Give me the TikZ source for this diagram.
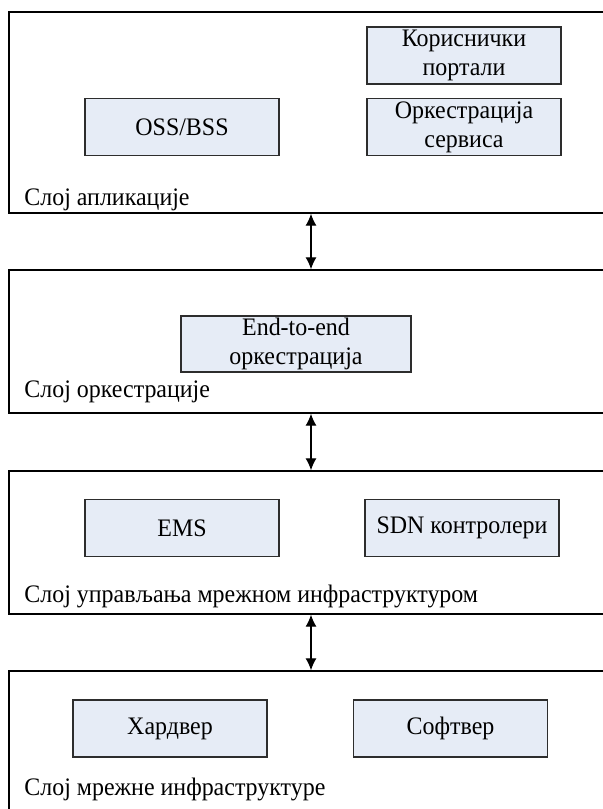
\documentclass[tikz,border=0pt]{standalone}
\usepackage{fontspec}
\setmainfont{Liberation Serif}[FakeStretch=0.95]
\usetikzlibrary{arrows.meta,positioning}
\definecolor{boxfill}{RGB}{230,236,246}
\definecolor{boxline}{RGB}{45,45,45}

\begin{document}
\begin{tikzpicture}[x=0.5pt,y=-0.5pt,
    layer/.style={draw=black,line width=0.7pt,minimum width=302pt,inner sep=0pt},
    part/.style={draw=boxline,fill=boxfill,line width=0.6pt,align=center,inner sep=0pt,
      minimum width=97pt,minimum height=28.75pt,font=\fontsize{12.6}{14.5}\selectfont},
    layername/.style={anchor=base west,inner sep=0pt,font=\fontsize{12.6}{14.5}\selectfont},
    link/.style={{Latex[length=6pt,width=5.5pt]}-{Latex[length=6pt,width=5.5pt]},line width=0.6pt}]
      \useasboundingbox (0,0) rectangle (603,809);
      \clip (0,0) rectangle (603,809);
      % layers
      \node[layer,minimum height=100.5pt] (app) at (311,112.5) {};
      \node[layer,minimum height=71.5pt] (orch) at (311,341.5) {};
      \node[layer,minimum height=71.5pt] (mgmt) at (311,542.5) {};
      \node[layer,minimum height=79.5pt] (infra) at (311,750.5) {};
      \node[layername] (appname) at (24,205) {Слој апликације};
      \node[layername] (orchname) at (24,397.5) {Слој оркестрације};
      \node[layername] (mgmtname) at (24,602) {Слој управљања мрежном инфраструктуром};
      \node[layername] (infraname) at (24,795) {Слој мрежне инфраструктуре};
      % parts
      \node[part,minimum height=28.5pt] (portals) at (464,55.5) {Кориснички\\портали};
      \node[part] (svcorch) at (464,127) {Оркестрација\\сервиса};
      \node[part] (ossbss) at (182,127) {OSS/BSS};
      \node[part,minimum width=115pt,minimum height=28pt] (e2e) at (296,344) {End-to-end\\оркестрација};
      \node[part] (ems) at (182,528) {EMS};
      \node[part] (sdn) at (462,528) {SDN контролери};
      \node[part,minimum height=28.5pt] (hw) at (170,728.5) {Хардвер};
      \node[part,minimum height=28.5pt] (sw) at (450.5,728.5) {Софтвер};
      % links between layers
      \draw[link] (app.south) -- (orch.north);
      \draw[link] (orch.south) -- (mgmt.north);
      \draw[link] (mgmt.south) -- (infra.north);
    \end{tikzpicture}
\end{document}
